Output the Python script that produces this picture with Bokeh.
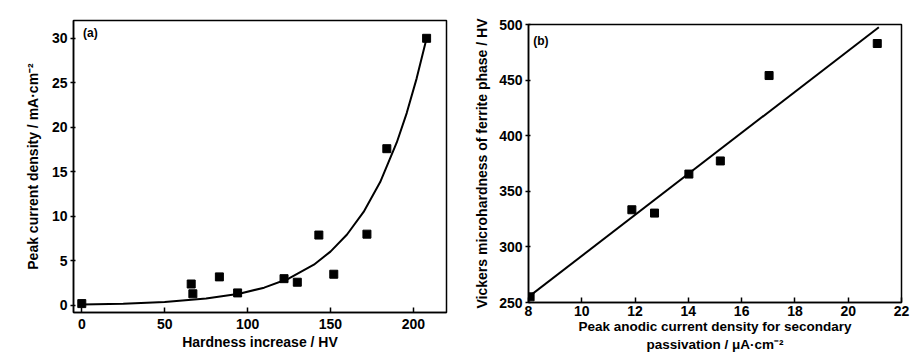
from bokeh.plotting import figure
from bokeh.layouts import row, column
from bokeh.models import Range1d, FixedTicker, Label
from bokeh.embed import file_html
from bokeh.resources import INLINE

# ---- Panel (a) data ----
hardness_increase = [0, 66, 67, 83, 94, 122, 130, 143, 152, 172, 184, 208]
peak_current = [0.2, 2.4, 1.3, 3.2, 1.4, 3.0, 2.6, 7.9, 3.5, 8.0, 17.6, 30.0]
# fitted curve
curve_x = [0, 25, 50, 75, 95, 110, 125, 140, 150, 160, 170, 180, 190, 196, 202, 208]
curve_y = [0.09, 0.19, 0.38, 0.76, 1.31, 1.99, 3.02, 4.57, 6.04, 7.96, 10.5, 13.85, 18.3, 21.6, 25.5, 30.0]
a_xticks = [0, 50, 100, 150, 200]
a_yticks = [0, 5, 10, 15, 20, 25, 30]

# ---- Panel (b) data ----
anodic_current = [8.06, 11.88, 12.73, 14.02, 15.2, 17.03, 21.09]
vickers = [255.1, 333.4, 330.4, 365.5, 377.3, 454.1, 482.9]
# fitted line endpoints
fit_x = [8.0, 21.15]
fit_y = [255.0, 497.6]
b_xticks = [8, 10, 12, 14, 16, 18, 20, 22]
b_yticks = [250, 300, 350, 400, 450, 500]

FONT = "Liberation Sans"


def style(p, xticks, yticks, x_standoff):
    p.grid.visible = False
    p.outline_line_color = "black"
    p.outline_line_width = 1.5
    p.xaxis.ticker = FixedTicker(ticks=xticks)
    p.yaxis.ticker = FixedTicker(ticks=yticks)
    for ax in (p.xaxis[0], p.yaxis[0]):
        ax.axis_line_color = "black"
        ax.axis_line_width = 1.5
        ax.major_tick_line_color = "black"
        ax.major_tick_line_width = 1.5
        ax.minor_tick_line_color = None
        ax.major_label_text_font = FONT
        ax.major_label_text_font_style = "bold"
        ax.major_label_text_font_size = "14px"
        ax.major_label_text_color = "black"
        ax.axis_label_text_font = FONT
        ax.axis_label_text_font_style = "bold"
        ax.axis_label_text_font_size = "14px"
        ax.axis_label_text_color = "black"
    p.xaxis.major_tick_in = 5
    p.xaxis.major_tick_out = 0
    p.xaxis.major_label_standoff = x_standoff
    p.yaxis.major_tick_in = 2
    p.yaxis.major_tick_out = 3
    p.yaxis.major_label_standoff = 3


# ---- Panel (a) ----
p1 = figure(width=460, height=355, title=None,
            x_range=Range1d(-5, 220), y_range=Range1d(-0.8, 32),
            output_backend="svg", toolbar_location=None,
            min_border_left=73, min_border_right=14,
            min_border_top=20, min_border_bottom=43)
style(p1, a_xticks, a_yticks, 6)
p1.xaxis.axis_label = "Hardness increase / HV"
p1.yaxis.axis_label = "Peak current density / mA·cm⁻²"
p1.xaxis.axis_label_standoff = 2
p1.yaxis.axis_label_standoff = 8
p1.line(curve_x, curve_y, line_color="black", line_width=2)
p1.scatter(hardness_increase, peak_current, marker="square", size=8,
           fill_color="black", line_color="black")
p1.add_layout(Label(x=0.8, y=30.6, text="(a)", text_font=FONT,
                    text_font_style="bold", text_font_size="12px",
                    text_baseline="middle", text_color="black"))

# ---- Panel (b) ----
p2 = figure(width=455, height=355, title=None,
            x_range=Range1d(8, 22), y_range=Range1d(250, 500),
            output_backend="svg", toolbar_location=None,
            min_border_left=68, min_border_right=14,
            min_border_top=24, min_border_bottom=53)
style(p2, b_xticks, b_yticks, 3)
p2.xaxis.axis_label = "Peak anodic current density for secondary\npassivation / μA·cm⁻²"
p2.xaxis.axis_label_text_font_size = "13.5px"
p2.yaxis.axis_label = "Vickers microhardness of ferrite phase / HV"
p2.xaxis.axis_label_standoff = 0
p2.yaxis.axis_label_standoff = 6
p2.line(fit_x, fit_y, line_color="black", line_width=2)
p2.scatter(anodic_current, vickers, marker="square", size=8,
           fill_color="black", line_color="black")
p2.add_layout(Label(x=8.18, y=485.6, text="(b)", text_font=FONT,
                    text_font_style="bold", text_font_size="12px",
                    text_baseline="middle", text_color="black"))

layout = row(column(p1), column(p2))
open("out.html", "w").write(file_html(layout, INLINE))
